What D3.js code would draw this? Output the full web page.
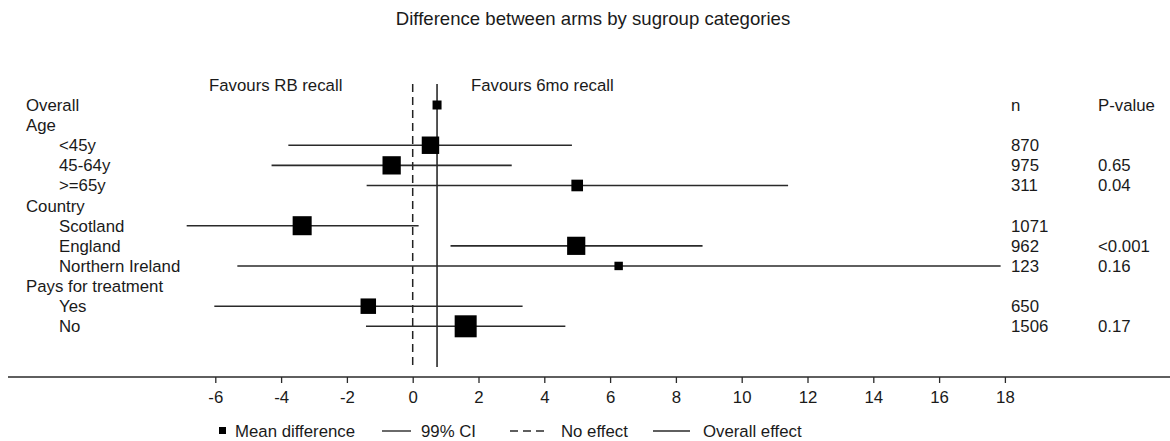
<!DOCTYPE html>
<html>
<head>
<meta charset="utf-8">
<script src="https://cdn.jsdelivr.net/npm/d3@7"></script>
<style>
  html, body { margin: 0; padding: 0; background: #fff; }
  svg { display: block; font-family: "Liberation Sans", Arial, sans-serif; }
</style>
</head>
<body>
<svg id="chart" width="1170" height="441"></svg>
<script>
const rowLabels = ["Overall","Age","<45y","45-64y",">=65y","Country","Scotland","England","Northern Ireland","Pays for treatment","Yes","No"];
const rowIndent = [0,0,1,1,1,0,1,1,1,0,1,1];
const nValues   = [null,null,870,975,311,null,1071,962,123,null,650,1506];
const pValues   = ["","","","0.65","0.04","","","<0.001","0.16","","","0.17"];
const meanDiff  = [0.74,null,0.54,-0.64,5.0,null,-3.36,4.97,6.26,null,-1.35,1.61];
const ciLower   = [null,null,-3.78,-4.29,-1.40,null,-6.87,1.15,-5.33,null,-6.03,-1.42];
const ciUpper   = [null,null,4.84,3.01,11.41,null,0.18,8.81,17.87,null,3.34,4.64];
const overallEffect = 0.74;
const noEffect = 0;
const xTicks = [-6,-4,-2,0,2,4,6,8,10,12,14,16,18];
const titleText = "Difference between arms by sugroup categories";
const legendLabels = ["Mean difference","99% CI","No effect","Overall effect"];

const svg = d3.select("#chart");
const FS = 16.8;
const textColor = "#1a1a1a";
const lineColor = "#2a2a2a";

const x = d3.scaleLinear().domain([-6, 18]).range([215.3, 1004.9]);
const y = d3.scalePoint().domain(d3.range(rowLabels.length)).range([105, 326.3]);
const size = d3.scaleSqrt().domain([0, 1506]).range([3, 22]);

// title
svg.append("text").attr("x", 593).attr("y", 25).attr("text-anchor", "middle")
  .attr("font-size", 18.6).attr("fill", textColor).text(titleText);

// favours labels
svg.append("text").attr("x", 209).attr("y", 91).attr("font-size", FS).attr("fill", textColor).text("Favours RB recall");
svg.append("text").attr("x", 471).attr("y", 91).attr("font-size", FS).attr("fill", textColor).text("Favours 6mo recall");

// column headers
svg.append("text").attr("x", 1011).attr("y", 111).attr("font-size", FS).attr("fill", textColor).text("n");
svg.append("text").attr("x", 1098).attr("y", 111).attr("font-size", FS).attr("fill", textColor).text("P-value");

// reference lines
svg.append("line").attr("x1", x(noEffect)).attr("x2", x(noEffect)).attr("y1", 84).attr("y2", 367)
  .attr("stroke", "#222").attr("stroke-width", 1.5).attr("stroke-dasharray", "8,5");
svg.append("line").attr("x1", x(overallEffect)).attr("x2", x(overallEffect)).attr("y1", 84).attr("y2", 367)
  .attr("stroke", lineColor).attr("stroke-width", 1.6);

// row labels
const rows = d3.range(rowLabels.length);
svg.selectAll("text.lab").data(rows).join("text").attr("class","lab")
  .attr("x", i => rowIndent[i] ? 59 : 26).attr("y", i => y(i) + 6)
  .attr("font-size", FS).attr("fill", textColor).text(i => rowLabels[i]);

svg.selectAll("text.n").data(rows.filter(i => nValues[i] != null)).join("text").attr("class","n")
  .attr("x", 1011).attr("y", i => y(i) + 6).attr("font-size", FS).attr("fill", textColor).text(i => nValues[i]);
svg.selectAll("text.p").data(rows.filter(i => pValues[i])).join("text").attr("class","p")
  .attr("x", 1098).attr("y", i => y(i) + 6).attr("font-size", FS).attr("fill", textColor).text(i => pValues[i]);

// CI lines
svg.selectAll("line.ci").data(rows.filter(i => ciLower[i] != null)).join("line").attr("class","ci")
  .attr("x1", i => x(ciLower[i])).attr("x2", i => x(ciUpper[i]))
  .attr("y1", i => y(i)).attr("y2", i => y(i))
  .attr("stroke", lineColor).attr("stroke-width", 1.6);

// squares
svg.selectAll("rect.pt").data(rows.filter(i => meanDiff[i] != null)).join("rect").attr("class","pt")
  .attr("x", i => x(meanDiff[i]) - (nValues[i] ? size(nValues[i]) : 9) / 2)
  .attr("y", i => y(i) - (nValues[i] ? size(nValues[i]) : 9) / 2)
  .attr("width", i => nValues[i] ? size(nValues[i]) : 9)
  .attr("height", i => nValues[i] ? size(nValues[i]) : 9)
  .attr("fill", "#000");

// axis
svg.append("line").attr("x1", 8).attr("x2", 1170).attr("y1", 377).attr("y2", 377)
  .attr("stroke", lineColor).attr("stroke-width", 1.3);
const ax = svg.append("g").attr("transform", "translate(0,377)")
  .call(d3.axisBottom(x).tickValues(xTicks).tickSize(6).tickPadding(8).tickFormat(d3.format("d")));
ax.select(".domain").remove();
ax.selectAll(".tick line").attr("stroke", lineColor).attr("stroke-width", 1.3);
ax.selectAll(".tick text").attr("font-size", FS).attr("fill", textColor)
  .attr("font-family", "Liberation Sans, Arial, sans-serif")
  .text(d => d < 0 ? "-" + Math.abs(d) : d);

// legend
const ly = 431;
svg.append("rect").attr("x", 219).attr("y", ly - 4).attr("width", 7).attr("height", 7).attr("fill", "#000");
svg.append("text").attr("x", 235).attr("y", ly + 6).attr("font-size", FS).attr("fill", textColor).text(legendLabels[0]);
svg.append("line").attr("x1", 382).attr("x2", 411).attr("y1", ly).attr("y2", ly).attr("stroke", lineColor).attr("stroke-width", 1.4);
svg.append("text").attr("x", 421).attr("y", ly + 6).attr("font-size", FS).attr("fill", textColor).text(legendLabels[1]);
svg.append("line").attr("x1", 510).attr("x2", 548).attr("y1", ly).attr("y2", ly).attr("stroke", lineColor).attr("stroke-width", 1.4).attr("stroke-dasharray", "8,5");
svg.append("text").attr("x", 561).attr("y", ly + 6).attr("font-size", FS).attr("fill", textColor).text(legendLabels[2]);
svg.append("line").attr("x1", 653).attr("x2", 690).attr("y1", ly).attr("y2", ly).attr("stroke", lineColor).attr("stroke-width", 1.4);
svg.append("text").attr("x", 703).attr("y", ly + 6).attr("font-size", FS).attr("fill", textColor).text(legendLabels[3]);
</script>
</body>
</html>
